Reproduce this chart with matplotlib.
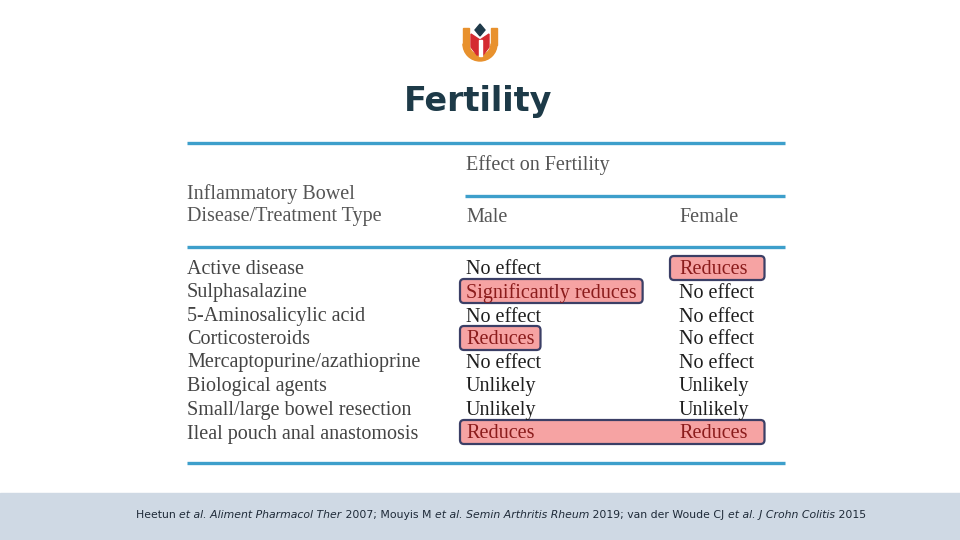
import matplotlib
matplotlib.use("Agg")
import matplotlib.pyplot as plt
from matplotlib.patches import FancyBboxPatch, Polygon, Rectangle, Wedge

# table content
rows = ["Active disease", "Sulphasalazine", "5-Aminosalicylic acid", "Corticosteroids",
        "Mercaptopurine/azathioprine", "Biological agents", "Small/large bowel resection",
        "Ileal pouch anal anastomosis"]
male = ["No effect", "Significantly reduces", "No effect", "Reduces",
        "No effect", "Unlikely", "Unlikely", "Reduces"]
female = ["Reduces", "No effect", "No effect", "No effect",
          "No effect", "Unlikely", "Unlikely", "Reduces"]
# highlighted cells: (row index, first col, last col)  col 1 = male, 2 = female
highlights = [(0, 2, 2), (1, 1, 1), (3, 1, 1), (7, 1, 2)]

citation = [("Heetun ", False), ("et al. Aliment Pharmacol Ther", True), (" 2007; Mouyis M ", False),
            ("et al. Semin Arthritis Rheum", True), (" 2019; van der Woude CJ ", False),
            ("et al. J Crohn Colitis", True), (" 2015", False)]

SERIF = "Liberation Serif"
BLUE = "#3d9fcb"
HEAD = "#555555"

fig = plt.figure(figsize=(9.6, 5.4), dpi=100)
ax = fig.add_axes([0, 0, 1, 1])
ax.set_xlim(0, 960)
ax.set_ylim(540, 0)
ax.axis("off")

# logo
ax.add_patch(Wedge((480, 44), 17, 0, 180, width=6, color="#e8912d"))
ax.add_patch(Rectangle((463, 28), 6, 17, color="#e8912d"))
ax.add_patch(Rectangle((491, 28), 6, 17, color="#e8912d"))
ax.add_patch(Polygon([(471, 34), (480, 40), (489, 34), (489, 47), (483, 55), (477, 55), (471, 47)],
                     closed=True, color="#d42a30"))
ax.add_patch(Rectangle((478.5, 40), 3, 16, color="#ffffff"))
ax.add_patch(Polygon([(480, 24), (485, 30), (480, 36), (475, 30)], closed=True, color="#1f3a4a"))

ax.text(478, 101, "Fertility", ha="center", va="center", fontsize=24, fontweight="bold",
        color="#1d3a48", family="DejaVu Sans")

# rules
for y, x0 in [(143, 187), (196, 465), (247, 187), (463, 187)]:
    ax.plot([x0, 785], [y, y], color=BLUE, lw=2.4, solid_capstyle="butt")

fs = 14.5
dy = 2
ax.text(466, 163 + dy, "Effect on Fertility", fontsize=fs, family=SERIF, color=HEAD, va="center")
ax.text(187, 192 + dy, "Inflammatory Bowel", fontsize=fs, family=SERIF, color=HEAD, va="center")
ax.text(187, 215 + dy, "Disease/Treatment Type", fontsize=fs, family=SERIF, color=HEAD, va="center")
ax.text(466, 215 + dy, "Male", fontsize=fs, family=SERIF, color=HEAD, va="center")
ax.text(679, 215 + dy, "Female", fontsize=fs, family=SERIF, color=HEAD, va="center")

row_y = [268, 291, 315, 338, 361, 385, 409, 432]
col_x = [187, 466, 679]
# box padding (left, right) per column
pad = {1: (6, 6), 2: (9, 17)}

fig.canvas.draw()
renderer = fig.canvas.get_renderer()

hl = {}
for r, c0, c1 in highlights:
    for c in range(c0, c1 + 1):
        hl[(r, c)] = True

texts = {}
for i, (a, m, f) in enumerate(zip(rows, male, female)):
    for c, s in enumerate([a, m, f]):
        col = "#8b1c1c" if (i, c) in hl else ("#444444" if c == 0 else "#1e1e1e")
        texts[(i, c)] = ax.text(col_x[c], row_y[i] + dy, s, fontsize=fs, family=SERIF,
                                color=col, va="center", zorder=3)

fig.canvas.draw()
inv = ax.transData.inverted()
for r, c0, c1 in highlights:
    e0 = texts[(r, c0)].get_window_extent(renderer)
    e1 = texts[(r, c1)].get_window_extent(renderer)
    x0 = inv.transform((e0.x0, 0))[0] - pad[c0][0]
    x1 = inv.transform((e1.x1, 0))[0] + pad[c1][1]
    y = row_y[r]
    ax.add_patch(FancyBboxPatch((x0, y - 12), x1 - x0, 24,
                                boxstyle="round,pad=0,rounding_size=4",
                                fc="#f6a3a3", ec="#3b3f66", lw=1.6, zorder=2))

# footer band
ax.add_patch(Rectangle((0, 493), 960, 47, color="#cfd9e4", zorder=1))
pieces = []
for s, it in citation:
    t = ax.text(0, 515, s, fontsize=7.85, family="DejaVu Sans", style="italic" if it else "normal",
                color="#1e2a38", va="center", zorder=3)
    pieces.append(t)
fig.canvas.draw()
widths = []
for t in pieces:
    e = t.get_window_extent(renderer)
    widths.append(e.width)
total = sum(widths)
x = 501 - total / 2
for t, w in zip(pieces, widths):
    t.set_x(x)
    x += w

fig.savefig("out.png", dpi=100, facecolor="white")
